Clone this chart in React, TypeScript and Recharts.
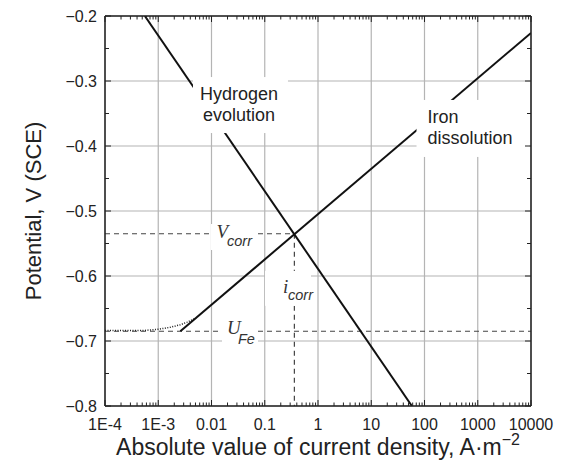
import React from "react";
import {
  LineChart,
  Line,
  XAxis,
  YAxis,
  CartesianGrid,
  ReferenceDot,
} from "recharts";

// decades on the log axis
const xMajor = [1e-4, 1e-3, 0.01, 0.1, 1, 10, 100, 1000, 10000];
const xMajorLabels = ["1E-4", "1E-3", "0.01", "0.1", "1", "10", "100", "1000", "10000"];
const yMajor = [-0.8, -0.7, -0.6, -0.5, -0.4, -0.3, -0.2];
const yMinor = [-0.75, -0.65, -0.55, -0.45, -0.35, -0.25];

// Tafel lines
const hydrogenLine = [
  { i: 5.6e-4, v: -0.2 },
  { i: 58, v: -0.8 },
];
const ironLine = [
  { i: 0.0026, v: -0.685 },
  { i: 10000, v: -0.226 },
];
const ironCurve = [
  { i: 1e-4, v: -0.684 },
  { i: 5e-4, v: -0.684 },
  { i: 1e-3, v: -0.682 },
  { i: 1.66e-3, v: -0.679 },
  { i: 2.6e-3, v: -0.675 },
  { i: 3.5e-3, v: -0.671 },
  { i: 5e-3, v: -0.665 },
];
const vCorrLine = [
  { i: 1e-4, v: -0.535 },
  { i: 0.36, v: -0.535 },
];
const iCorrLine = [
  { i: 0.36, v: -0.535 },
  { i: 0.36, v: -0.8 },
];
const uFeLine = [
  { i: 1e-4, v: -0.685 },
  { i: 10000, v: -0.685 },
];

const xMinor: number[] = [];
xMajor.slice(0, -1).forEach((d) => {
  for (let m = 2; m <= 9; m++) xMinor.push(d * m);
});
const xTicks = [...xMajor, ...xMinor];
const yTicks = [...yMajor, ...yMinor];

const FONT = "'Liberation Sans', Arial, Helvetica, sans-serif";
const SERIF = "'Liberation Serif', 'Times New Roman', serif";
const INK = "#222";
const GRID = "#b4b4b4";
const DASH = "#444";

const isXMajor = (v: number) => xMajor.indexOf(v) >= 0;
const isYMajor = (v: number) => Math.abs(v * 10 - Math.round(v * 10)) < 1e-6;

const BottomTick = (props: any) => {
  const { x, y, payload } = props;
  const idx = xMajor.indexOf(payload.value);
  const major = idx >= 0;
  return (
    <g>
      <line x1={x} y1={y} x2={x} y2={y - (major ? 6 : 3.5)} stroke={INK} strokeWidth={1} />
      {major && (
        <text x={x} y={y + 13} dy="0.71em" textAnchor="middle" fontSize={16} fill={INK} fontFamily={FONT}>
          {xMajorLabels[idx]}
        </text>
      )}
    </g>
  );
};

const TopTick = (props: any) => {
  const { x, y, payload } = props;
  const major = isXMajor(payload.value);
  return <line x1={x} y1={y} x2={x} y2={y + (major ? 6 : 3.5)} stroke={INK} strokeWidth={1} />;
};

const LeftTick = (props: any) => {
  const { x, y, payload } = props;
  const major = isYMajor(payload.value);
  return (
    <g>
      <line x1={x} y1={y} x2={x + (major ? 6 : 4)} y2={y} stroke={INK} strokeWidth={1} />
      {major && (
        <text x={x - 8} y={y} dy="0.36em" textAnchor="end" fontSize={16} fill={INK} fontFamily={FONT}>
          {payload.value.toFixed(1).replace("-", "\u2212")}
        </text>
      )}
    </g>
  );
};

const RightTick = (props: any) => {
  const { x, y, payload } = props;
  const major = isYMajor(payload.value);
  return <line x1={x} y1={y} x2={x - (major ? 6 : 4)} y2={y} stroke={INK} strokeWidth={1} />;
};

const XTitle = (props: any) => {
  const { x, y, width } = props.viewBox;
  return (
    <text x={x + width / 2} y={y + 49} textAnchor="middle" fontSize={23} fill={INK} fontFamily={FONT}>
      Absolute value of current density, A·m
      <tspan dy={-10} fontSize={16}>
        {"\u22122"}
      </tspan>
    </text>
  );
};

const YTitle = (props: any) => {
  const { y, height } = props.viewBox;
  const cy = y + height / 2;
  return (
    <text
      x={33}
      y={cy}
      transform={`rotate(-90 33 ${cy})`}
      textAnchor="middle"
      dominantBaseline="central"
      fontSize={22}
      fill={INK}
      fontFamily={FONT}
    >
      Potential, V (SCE)
    </text>
  );
};

// white patch behind an annotation, hides grid and lines under it
const boxLabel =
  (w: number, h: number, lines: { t: string; dx: number; dy: number; anchor?: string }[]) =>
  (props: any) => {
    const { cx, cy } = props;
    return (
      <g>
        <rect x={cx - w / 2} y={cy - h / 2} width={w} height={h} fill="#fff" />
        {lines.map((l, k) => (
          <text
            key={k}
            x={cx + l.dx}
            y={cy + l.dy}
            textAnchor={l.anchor || "middle"}
            fontSize={18}
            fill={INK}
            fontFamily={FONT}
          >
            {l.t}
          </text>
        ))}
      </g>
    );
  };

const symLabel =
  (w: number, h: number, main: string, sub: string, mdx: number, mdy: number, sdx: number, sdy: number) =>
  (props: any) => {
    const { cx, cy } = props;
    return (
      <g>
        <rect x={cx - w / 2} y={cy - h / 2} width={w} height={h} fill="#fff" />
        <text x={cx + mdx} y={cy + mdy} fontSize={19} fontStyle="italic" fill="#333" fontFamily={SERIF}>
          {main}
        </text>
        <text x={cx + sdx} y={cy + sdy} fontSize={14.5} fontStyle="italic" fill="#333" fontFamily={FONT}>
          {sub}
        </text>
      </g>
    );
  };

export default function App() {
  return (
    <div style={{ width: 574, height: 470 }}>
      <style>{"body{margin:0}"}</style>
      <LineChart width={574} height={470} margin={{ top: 15, right: 42, bottom: 34, left: 0 }}>
        <CartesianGrid
          xAxisId="b"
          yAxisId="l"
          stroke={GRID}
          strokeWidth={1.2}
          verticalValues={xMajor}
          horizontalValues={yMajor}
        />
        <XAxis
          xAxisId="b"
          dataKey="i"
          type="number"
          scale="log"
          domain={[1e-4, 1e4]}
          allowDataOverflow
          ticks={xTicks}
          interval={0}
          tickSize={0}
          tickMargin={0}
          tickLine={false}
          tick={BottomTick}
          axisLine={{ stroke: INK, strokeWidth: 1.5 }}
          height={30}
          label={<XTitle />}
        />
        <XAxis
          xAxisId="t"
          orientation="top"
          dataKey="i"
          type="number"
          scale="log"
          domain={[1e-4, 1e4]}
          allowDataOverflow
          ticks={xTicks}
          interval={0}
          tickSize={0}
          tickMargin={0}
          tickLine={false}
          tick={TopTick}
          axisLine={{ stroke: INK, strokeWidth: 1.5 }}
          height={1}
        />
        <YAxis
          yAxisId="l"
          type="number"
          domain={[-0.8, -0.2]}
          allowDataOverflow
          ticks={yTicks}
          interval={0}
          tickSize={0}
          tickMargin={0}
          tickLine={false}
          tick={LeftTick}
          axisLine={{ stroke: INK, strokeWidth: 1.5 }}
          width={105}
          label={<YTitle />}
        />
        <YAxis
          yAxisId="r"
          orientation="right"
          type="number"
          domain={[-0.8, -0.2]}
          allowDataOverflow
          ticks={yTicks}
          interval={0}
          tickSize={0}
          tickMargin={0}
          tickLine={false}
          tick={RightTick}
          axisLine={{ stroke: INK, strokeWidth: 1.5 }}
          width={1}
        />

        <Line xAxisId="b" yAxisId="l" data={uFeLine} dataKey="v" stroke={DASH} strokeWidth={1.2} strokeDasharray="5 4" dot={false} isAnimationActive={false} />
        <Line xAxisId="b" yAxisId="l" data={vCorrLine} dataKey="v" stroke={DASH} strokeWidth={1.2} strokeDasharray="5 4" dot={false} isAnimationActive={false} />
        <Line xAxisId="b" yAxisId="l" data={iCorrLine} dataKey="v" stroke={DASH} strokeWidth={1.2} strokeDasharray="5 4" dot={false} isAnimationActive={false} />
        <Line xAxisId="b" yAxisId="l" data={ironCurve} dataKey="v" stroke={INK} strokeWidth={1.5} strokeDasharray="1 1.5" dot={false} isAnimationActive={false} />
        <Line xAxisId="b" yAxisId="l" data={hydrogenLine} dataKey="v" stroke="#111" strokeWidth={2} dot={false} isAnimationActive={false} />
        <Line xAxisId="b" yAxisId="l" data={ironLine} dataKey="v" stroke="#111" strokeWidth={2} dot={false} isAnimationActive={false} />

        <ReferenceDot
          xAxisId="b"
          yAxisId="l"
          x={0.035}
          y={-0.337}
          r={0}
          zIndex={1000}
          shape={boxLabel(95, 56, [
            { t: "Hydrogen", dx: -1.5, dy: -5 },
            { t: "evolution", dx: -1.5, dy: 16 },
          ])}
        />
        <ReferenceDot
          xAxisId="b"
          yAxisId="l"
          x={815}
          y={-0.373}
          r={0}
          zIndex={1000}
          shape={boxLabel(113, 57, [
            { t: "Iron", dx: -45.5, dy: -5, anchor: "start" },
            { t: "dissolution", dx: -45.5, dy: 16, anchor: "start" },
          ])}
        />
        <ReferenceDot
          xAxisId="b"
          yAxisId="l"
          x={0.0259}
          y={-0.54}
          r={0}
          zIndex={1000}
          shape={symLabel(45, 26, "V", "corr", -17, 1, -6.5, 9)}
        />
        <ReferenceDot
          xAxisId="b"
          yAxisId="l"
          x={0.2735}
          y={-0.619}
          r={0}
          zIndex={1000}
          shape={symLabel(46, 35, "i", "corr", -5, 4.5, 0, 11.5)}
        />
        <ReferenceDot
          xAxisId="b"
          yAxisId="l"
          x={0.0343}
          y={-0.689}
          r={0}
          zIndex={1000}
          shape={symLabel(36, 32, "U", "Fe", -13, 0.5, -2, 10.5)}
        />
      </LineChart>
    </div>
  );
}
